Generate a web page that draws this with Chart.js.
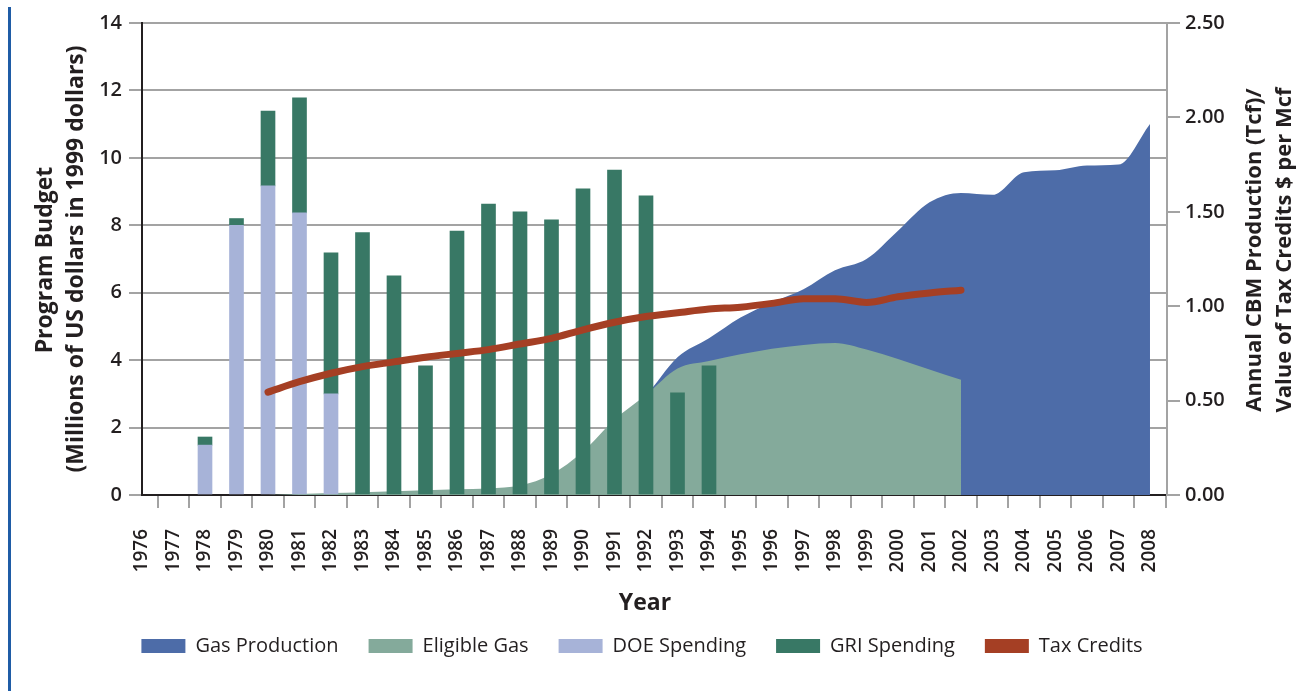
<!DOCTYPE html>
<html lang="en">
<head>
  <meta charset="UTF-8">
  <title>CBM program budget and production</title>
  <script src="https://cdn.jsdelivr.net/npm/chart.js@4.4.1/dist/chart.umd.min.js"></script>
  <style>
    body { margin: 0; background: #fff; }
  </style>
</head>
<body>
<canvas id="chart" width="1302" height="691"></canvas>

<script>
// years on the x axis
const years = [];
for (let y = 1976; y <= 2008; y++) years.push(y);

// program budget, millions of 1999 US$ (left axis)
const doeSpending = [null, null, 1.48, 8.0, 9.17, 8.37, 3.0];          // 1976-1982
const griSpending = [null, null, 0.24, 0.2, 2.22, 3.41, 4.18, 7.78, 6.5, 3.83,
  7.83, 8.63, 8.4, 8.16, 9.08, 9.64, 8.87, 3.03, 3.83];                // 1976-1994

// annual CBM production, Tcf (right axis)
const eligibleGas = [0, 0, 0, 0, 0, 0.005, 0.01, 0.015, 0.02, 0.025, 0.03, 0.035,
  0.05, 0.11, 0.23, 0.40, 0.53, 0.67, 0.71, 0.745, 0.775, 0.795, 0.805, 0.77,
  0.72, 0.665, 0.61];                                                   // 1976-2002
const gasProduction = [null, null, null, null, null, null, null, null, null, null,
  null, null, null, null, null, 0.40, 0.53, 0.73, 0.83, 0.94, 1.02, 1.09, 1.19,
  1.25, 1.40, 1.55, 1.60, 1.59, 1.71, 1.72, 1.745, 1.75, 1.965];        // 1976-2008

// value of tax credits, $ per Mcf (right axis)
const taxCredits = [null, null, null, null, 0.545, 0.60, 0.645, 0.68, 0.705, 0.73,
  0.75, 0.77, 0.80, 0.83, 0.875, 0.915, 0.945, 0.965, 0.985, 0.995, 1.015, 1.04,
  1.04, 1.02, 1.05, 1.07, 1.085];                                       // 1976-2002

const leftTicks = [0, 2, 4, 6, 8, 10, 12, 14];
const rightTicks = [0, 0.5, 1, 1.5, 2, 2.5];

function pts(arr) {
  return arr.map((v, i) => ({x: years[i], y: v})).filter(p => p.y !== null);
}

const ink = '#231f20';
const gridGray = '#a3a3a3';

const extras = {
  id: 'extras',
  afterDraw(chart) {
    const ctx = chart.ctx;
    ctx.save();
    ctx.fillStyle = '#1f5ca6';
    ctx.fillRect(8, 7, 3, 691);

    ctx.fillStyle = ink;
    ctx.textAlign = 'center';
    ctx.textBaseline = 'middle';
    ctx.font = 'bold 23px "Open Sans"';
    ctx.fillText('Year', 645, 603);

    ctx.save();
    ctx.translate(45, 260);
    ctx.rotate(-Math.PI / 2);
    ctx.fillText('Program Budget', 0, 0);
    ctx.restore();
    ctx.save();
    ctx.translate(76, 259);
    ctx.rotate(-Math.PI / 2);
    ctx.fillText('(Millions of US dollars in 1999 dollars)', 0, 0);
    ctx.restore();

    ctx.font = 'bold 22px "Open Sans"';
    ctx.save();
    ctx.translate(1255, 250);
    ctx.rotate(-Math.PI / 2);
    ctx.fillText('Annual CBM Production (Tcf)/', 0, 0);
    ctx.restore();
    ctx.save();
    ctx.translate(1285, 250);
    ctx.rotate(-Math.PI / 2);
    ctx.fillText('Value of Tax Credits $ per Mcf', 0, 0);
    ctx.restore();
    ctx.restore();
  }
};

const ctx = document.getElementById('chart').getContext('2d');
const myChart = new Chart(ctx, {
  type: 'bar',
  data: {
    datasets: [
      {
        type: 'line',
        label: 'Gas Production',
        data: pts(gasProduction),
        yAxisID: 'y2',
        backgroundColor: '#4d6ca8',
        borderColor: '#4d6ca8',
        borderWidth: 0,
        pointRadius: 0,
        fill: 'origin',
        cubicInterpolationMode: 'monotone',
        order: 5
      },
      {
        type: 'line',
        label: 'Eligible Gas',
        data: pts(eligibleGas),
        yAxisID: 'y2',
        backgroundColor: '#84aa9b',
        borderColor: '#84aa9b',
        borderWidth: 0,
        pointRadius: 0,
        fill: 'origin',
        cubicInterpolationMode: 'monotone',
        order: 4
      },
      {
        label: 'DOE Spending',
        data: pts(doeSpending),
        yAxisID: 'y',
        stack: 'budget',
        backgroundColor: '#a7b3d8',
        barThickness: 14,
        order: 1
      },
      {
        label: 'GRI Spending',
        data: pts(griSpending),
        yAxisID: 'y',
        stack: 'budget',
        backgroundColor: '#387865',
        barThickness: 14,
        order: 2
      },
      {
        type: 'line',
        label: 'Tax Credits',
        data: pts(taxCredits),
        yAxisID: 'y2',
        backgroundColor: '#a53f24',
        borderColor: '#a53f24',
        borderWidth: 7,
        borderCapStyle: 'round',
        pointRadius: 0,
        fill: false,
        cubicInterpolationMode: 'monotone',
        order: 0
      }
    ]
  },
  options: {
    responsive: false,
    devicePixelRatio: 1,
    animation: false,
    layout: { padding: { left: 0, right: 18, top: 23, bottom: 25 } },
    plugins: {
      tooltip: { enabled: false },
      legend: {
        position: 'bottom',
        labels: {
          boxWidth: 44,
          boxHeight: 14,
          padding: 30,
          color: ink,
          font: { family: '"Open Sans"', size: 20 },
          sort: (a, b) => a.datasetIndex - b.datasetIndex,
          generateLabels(chart) {
            const items = Chart.defaults.plugins.legend.labels.generateLabels(chart);
            items.forEach(it => {
              it.fillStyle = chart.data.datasets[it.datasetIndex].backgroundColor;
              it.lineWidth = 0;
              it.strokeStyle = 'rgba(0,0,0,0)';
            });
            return items;
          }
        }
      }
    },
    scales: {
      x: {
        type: 'linear',
        stacked: true,
        min: 1976,
        max: 2008.54,
        offset: false,
        afterFit: s => { s.height = 111; },
        afterBuildTicks: s => { s.ticks = years.map(v => ({value: v})); },
        grid: {
          drawOnChartArea: false,
          drawTicks: true,
          tickLength: 13,
          color: gridGray,
          lineWidth: 2
        },
        border: { color: ink, width: 2 },
        ticks: {
          autoSkip: false,
          minRotation: 90,
          maxRotation: 90,
          padding: 21,
          color: ink,
          font: { family: '"Open Sans"', size: 19, weight: '600' },
          callback: v => String(v)
        }
      },
      y: {
        position: 'left',
        stacked: true,
        min: 0,
        max: 14,
        afterFit: s => { s.width = 142; },
        afterBuildTicks: s => { s.ticks = leftTicks.map(v => ({value: v})); },
        grid: {
          color: gridGray,
          lineWidth: 2,
          tickLength: 13
        },
        border: { color: ink, width: 2 },
        ticks: {
          padding: 7,
          color: ink,
          font: { family: '"Open Sans"', size: 20, weight: '600' }
        }
      },
      y2: {
        position: 'right',
        min: 0,
        max: 2.5,
        afterFit: s => { s.width = 117; },
        afterBuildTicks: s => { s.ticks = rightTicks.map(v => ({value: v})); },
        grid: {
          drawOnChartArea: false,
          color: gridGray,
          lineWidth: 2,
          tickLength: 13
        },
        border: { color: gridGray, width: 2 },
        ticks: {
          padding: 5,
          color: ink,
          font: { family: '"Open Sans"', size: 20, weight: '600' },
          callback: v => v.toFixed(2)
        }
      }
    }
  },
  plugins: [extras]
});
</script>

</body>
</html>
